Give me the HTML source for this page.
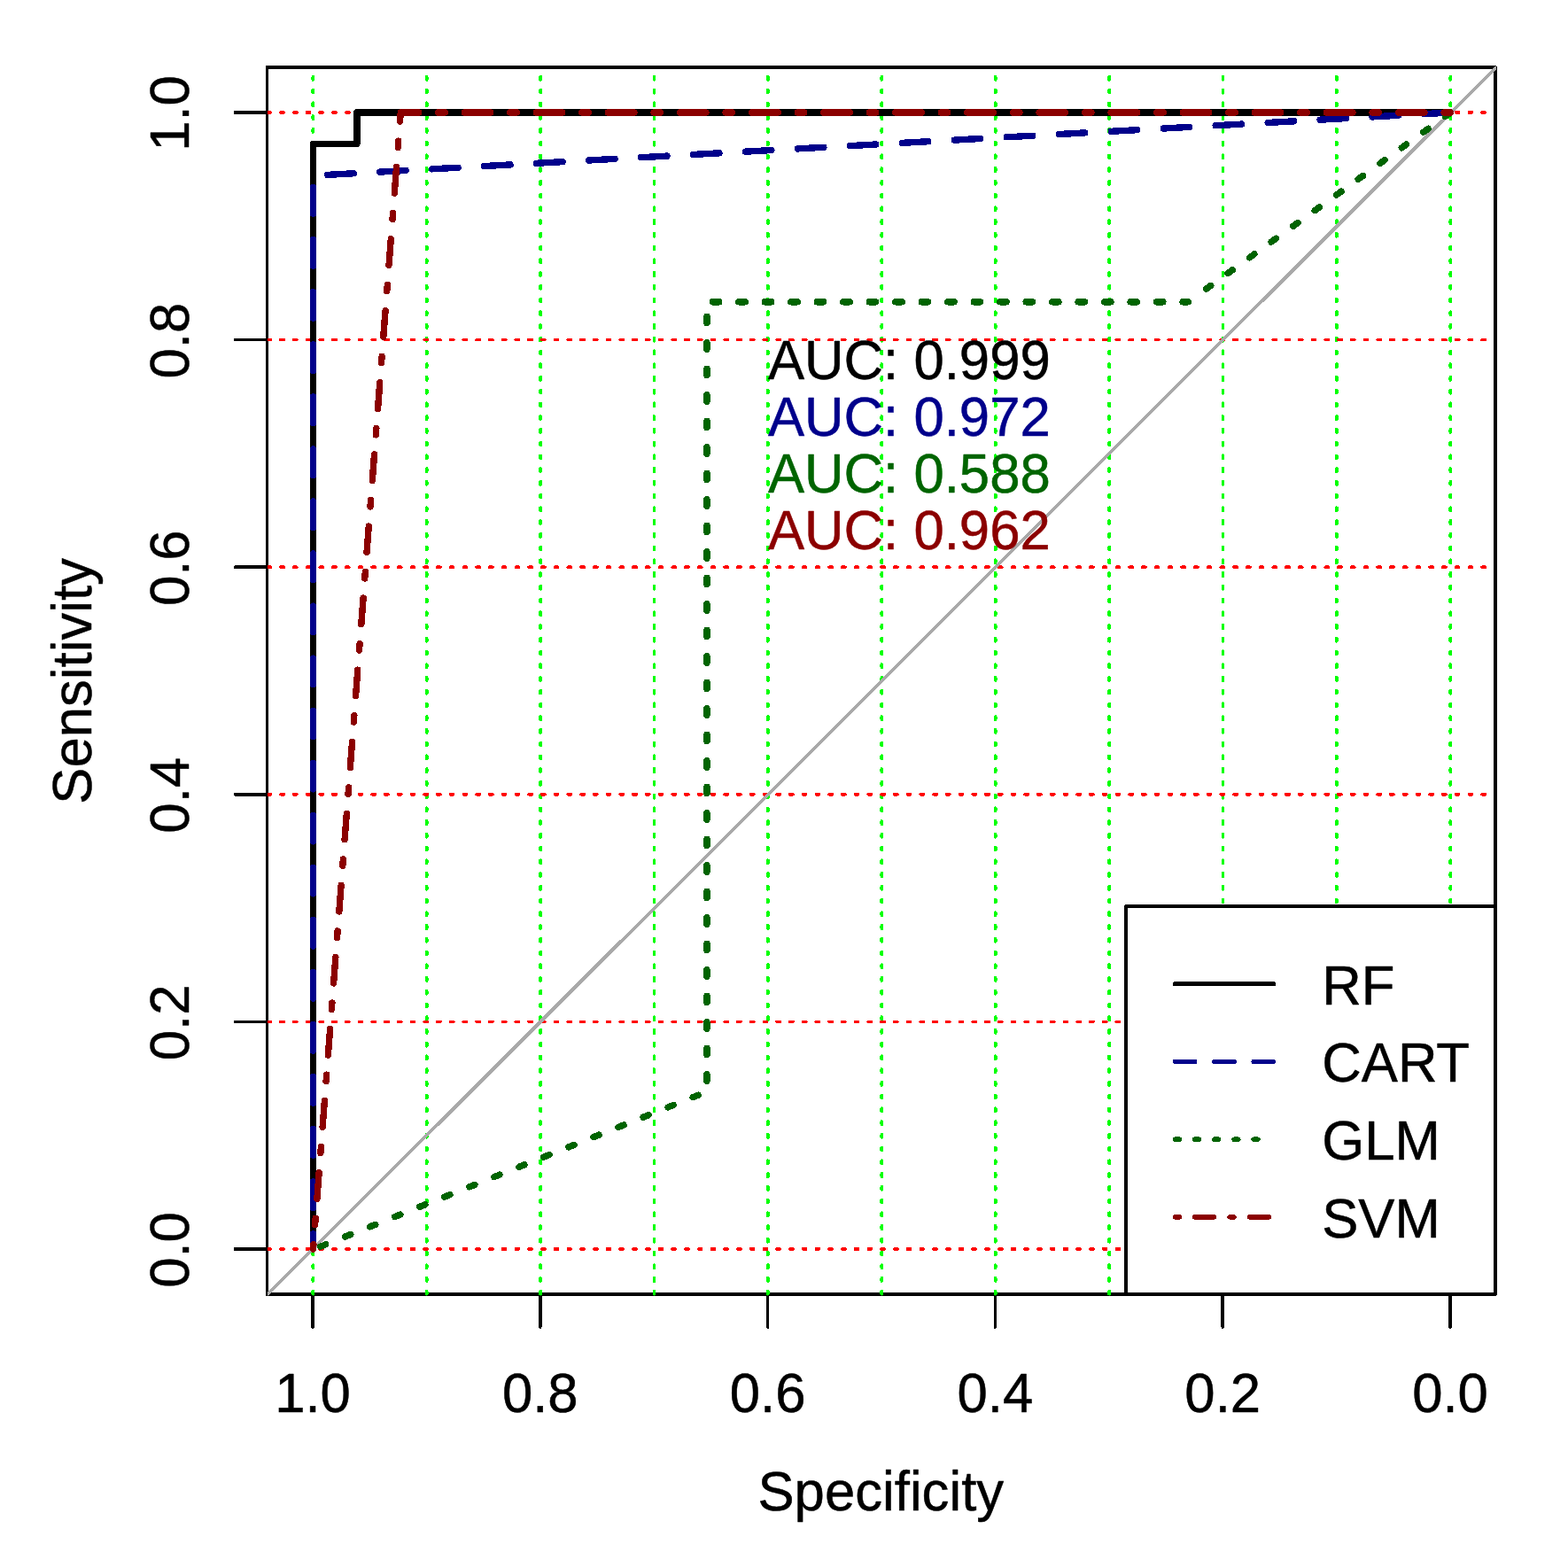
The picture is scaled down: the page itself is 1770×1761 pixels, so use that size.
<!DOCTYPE html>
<html lang="en"><head><meta charset="utf-8"><title>ROC curves</title>
<style>
html,body{margin:0;padding:0;background:#ffffff;}
body{width:1770px;height:1761px;overflow:hidden;}
svg{display:block;}
text{font-family:"Liberation Sans",Arial,Helvetica,sans-serif;font-size:61.7px;stroke-width:0.5;stroke-linejoin:round;}
.c{fill:none;stroke-linecap:round;stroke-linejoin:round;}
</style></head><body>
<svg width="1770" height="1761" viewBox="0 0 1770 1761" shape-rendering="crispEdges">
<rect x="0" y="0" width="1770" height="1761" fill="#ffffff"/>
<defs><clipPath id="plot"><rect x="302" y="75" width="1387" height="1387.5"/></clipPath></defs>
<g class="c" stroke="#000" stroke-width="3.69">
<rect x="301.50" y="76.00" width="1386.50" height="1385.00"/>
<line x1="353.00" y1="1461.00" x2="353.00" y2="1498.00"/>
<line x1="301.50" y1="127.00" x2="265.50" y2="127.00"/>
<line x1="609.80" y1="1461.00" x2="609.80" y2="1498.00"/>
<line x1="301.50" y1="383.60" x2="265.50" y2="383.60"/>
<line x1="866.60" y1="1461.00" x2="866.60" y2="1498.00"/>
<line x1="301.50" y1="640.20" x2="265.50" y2="640.20"/>
<line x1="1123.40" y1="1461.00" x2="1123.40" y2="1498.00"/>
<line x1="301.50" y1="896.80" x2="265.50" y2="896.80"/>
<line x1="1380.20" y1="1461.00" x2="1380.20" y2="1498.00"/>
<line x1="301.50" y1="1153.40" x2="265.50" y2="1153.40"/>
<line x1="1637.00" y1="1461.00" x2="1637.00" y2="1498.00"/>
<line x1="301.50" y1="1410.00" x2="265.50" y2="1410.00"/>
</g>
<text transform="translate(353.00 1594.30) scale(1 1.035)" text-anchor="middle" fill="#000" stroke="#000">1.0</text>
<text transform="translate(609.80 1594.30) scale(1 1.035)" text-anchor="middle" fill="#000" stroke="#000">0.8</text>
<text transform="translate(866.60 1594.30) scale(1 1.035)" text-anchor="middle" fill="#000" stroke="#000">0.6</text>
<text transform="translate(1123.40 1594.30) scale(1 1.035)" text-anchor="middle" fill="#000" stroke="#000">0.4</text>
<text transform="translate(1380.20 1594.30) scale(1 1.035)" text-anchor="middle" fill="#000" stroke="#000">0.2</text>
<text transform="translate(1637.00 1594.30) scale(1 1.035)" text-anchor="middle" fill="#000" stroke="#000">0.0</text>
<text transform="translate(212.90 1411.00) rotate(-90) scale(1 1.035)" text-anchor="middle" fill="#000" stroke="#000">0.0</text>
<text transform="translate(212.90 1154.40) rotate(-90) scale(1 1.035)" text-anchor="middle" fill="#000" stroke="#000">0.2</text>
<text transform="translate(212.90 897.80) rotate(-90) scale(1 1.035)" text-anchor="middle" fill="#000" stroke="#000">0.4</text>
<text transform="translate(212.90 641.20) rotate(-90) scale(1 1.035)" text-anchor="middle" fill="#000" stroke="#000">0.6</text>
<text transform="translate(212.90 384.60) rotate(-90) scale(1 1.035)" text-anchor="middle" fill="#000" stroke="#000">0.8</text>
<text transform="translate(212.90 128.00) rotate(-90) scale(1 1.035)" text-anchor="middle" fill="#000" stroke="#000">1.0</text>
<text transform="translate(994.30 1705.30) scale(1 1.005)" text-anchor="middle" fill="#000" stroke="#000">Specificity</text>
<text transform="translate(103.30 768.90) rotate(-90) scale(1 1.005)" text-anchor="middle" fill="#000" stroke="#000">Sensitivity</text>
<g clip-path="url(#plot)">
<g class="c" stroke="#00ff00" stroke-width="3.69" stroke-dasharray="3.200 11.540">
<line x1="1637.30" y1="1460.80" x2="1637.30" y2="81.00"/>
<line x1="1508.90" y1="1460.80" x2="1508.90" y2="81.00"/>
<line x1="1380.50" y1="1460.80" x2="1380.50" y2="81.00"/>
<line x1="1252.10" y1="1460.80" x2="1252.10" y2="81.00"/>
<line x1="1123.70" y1="1460.80" x2="1123.70" y2="81.00"/>
<line x1="995.30" y1="1460.80" x2="995.30" y2="81.00"/>
<line x1="866.90" y1="1460.80" x2="866.90" y2="81.00"/>
<line x1="738.50" y1="1460.80" x2="738.50" y2="81.00"/>
<line x1="610.10" y1="1460.80" x2="610.10" y2="81.00"/>
<line x1="481.70" y1="1460.80" x2="481.70" y2="81.00"/>
<line x1="353.30" y1="1460.80" x2="353.30" y2="81.00"/>
</g>
<g class="c" stroke="#ff0000" stroke-width="3.69" stroke-dasharray="3.200 11.540">
<line x1="302.20" y1="1410.00" x2="1682.00" y2="1410.00"/>
<line x1="302.20" y1="1153.40" x2="1682.00" y2="1153.40"/>
<line x1="302.20" y1="896.80" x2="1682.00" y2="896.80"/>
<line x1="302.20" y1="640.20" x2="1682.00" y2="640.20"/>
<line x1="302.20" y1="383.60" x2="1682.00" y2="383.60"/>
<line x1="302.20" y1="127.00" x2="1682.00" y2="127.00"/>
</g>
<line class="c" stroke="#a9a9a9" stroke-width="3.69" x1="301.50" y1="1461.70" x2="1688.00" y2="76.70"/>
<polyline class="c" stroke="#000" stroke-width="7.38" points="1637.50,127.00 402.88,127.00 402.88,162.64 353.50,162.64 353.50,1410.00"/>
<polyline class="c" stroke="#00008b" stroke-width="7.38" stroke-dasharray="29.530 29.530" points="1637.50,127.00 353.50,198.28 353.50,1410.00"/>
<polyline class="c" stroke="#006400" stroke-width="7.38" stroke-dasharray="6.600 23.670" stroke-dashoffset="-0.90" points="1637.50,127.00 1344.44,338.49"/>
<polyline class="c" stroke="#006400" stroke-width="7.38" stroke-dasharray="7.370 22.110" stroke-dashoffset="1.20" points="1341.19,340.83 797.96,340.83"/>
<polyline class="c" stroke="#006400" stroke-width="7.38" stroke-dasharray="7.375 22.125" stroke-dashoffset="13.10" points="797.96,340.83 797.96,1231.81"/>
<polyline class="c" stroke="#006400" stroke-width="7.38" stroke-dasharray="6.600 23.600" stroke-dashoffset="19.70" points="797.96,1232.31 353.50,1410.50"/>
<polyline class="c" stroke="#8b0000" stroke-width="7.38" stroke-dasharray="7.373 22.118 29.491 22.118" points="1637.50,127.00 452.27,127.00"/>
<polyline class="c" stroke="#8b0000" stroke-width="7.38" stroke-dasharray="7.393 22.178 29.571 22.178" stroke-dashoffset="49.10" points="452.27,127.00 353.50,1410.00"/>
</g>
<text transform="translate(866.90 428.30) scale(1 1.035)" text-anchor="start" fill="#000" stroke="#000">AUC: 0.999</text>
<text transform="translate(866.90 492.30) scale(1 1.035)" text-anchor="start" fill="#00008b" stroke="#00008b">AUC: 0.972</text>
<text transform="translate(866.90 556.30) scale(1 1.035)" text-anchor="start" fill="#006400" stroke="#006400">AUC: 0.588</text>
<text transform="translate(866.90 620.30) scale(1 1.035)" text-anchor="start" fill="#8b0000" stroke="#8b0000">AUC: 0.962</text>
<rect x="1271.2" y="1022.8" width="416.80" height="438.20" fill="#ffffff" stroke="#000" stroke-width="3.69" stroke-linejoin="round"/>
<line class="c" stroke="#000" stroke-width="5.40" x1="1326.60" y1="1110.70" x2="1437.40" y2="1110.70"/>
<text transform="translate(1492.20 1133.50) scale(1 1.035)" text-anchor="start" fill="#000" stroke="#000">RF</text>
<line class="c" stroke="#00008b" stroke-width="5.40" stroke-dasharray="22.125 22.125" x1="1326.60" y1="1198.43" x2="1437.40" y2="1198.43"/>
<text transform="translate(1492.20 1221.23) scale(1 1.035)" text-anchor="start" fill="#000" stroke="#000">CART</text>
<line class="c" stroke="#006400" stroke-width="5.40" stroke-dasharray="4.917 17.208" x1="1326.60" y1="1286.16" x2="1433.40" y2="1286.16"/>
<text transform="translate(1492.20 1308.96) scale(1 1.035)" text-anchor="start" fill="#000" stroke="#000">GLM</text>
<line class="c" stroke="#8b0000" stroke-width="5.40" stroke-dasharray="4.917 17.208 22.125 17.208" x1="1326.60" y1="1373.89" x2="1437.40" y2="1373.89"/>
<text transform="translate(1492.20 1396.69) scale(1 1.035)" text-anchor="start" fill="#000" stroke="#000">SVM</text>
</svg></body></html>
